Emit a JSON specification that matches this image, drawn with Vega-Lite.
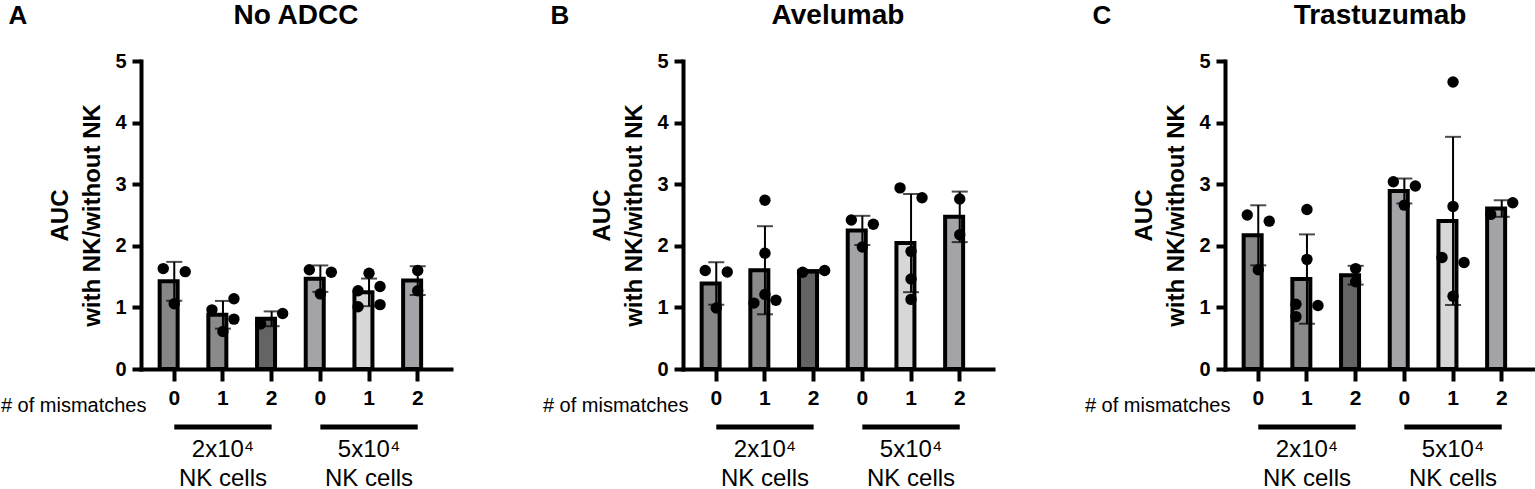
{
  "$schema": "https://vega.github.io/schema/vega-lite/v6.json",
  "description": "AUC with NK / without NK by number of mismatches and NK cell dose, three ADCC conditions",
  "background": "white",
  "padding": {"top": 2, "left": 0, "right": 0, "bottom": 0},
  "spacing": 91,
  "config": {
    "font": "Liberation Sans",
    "view": {"stroke": null},
    "axis": {
      "grid": false,
      "domainColor": "black",
      "tickColor": "black",
      "labelColor": "black",
      "titleColor": "black",
      "domainWidth": 4,
      "tickWidth": 4,
      "domainCap": "square"
    },
    "axisX": {
      "labelExpr": "split(datum.label, '|')[1]",
      "labelAngle": 0,
      "labelFontSize": 21,
      "labelFontWeight": "bold",
      "labelPadding": 6,
      "tickSize": 12,
      "titleFontSize": 20,
      "titleFontWeight": "normal",
      "titleAlign": "right",
      "titleBaseline": "alphabetic",
      "titleX": 5,
      "titleY": 42
    },
    "axisY": {
      "tickCount": 5,
      "labelFontSize": 20,
      "labelFontWeight": "bold",
      "labelPadding": 6,
      "tickSize": 9,
      "titleFontSize": 24,
      "titleFontWeight": "bold",
      "titleLineHeight": 32,
      "titlePadding": 10
    },
    "title": {"color": "black"}
  },
  "datasets": {
    "pts": [
      {"panel": "A", "cond": "2x10^4|0", "side": "L", "v": 1.63},
      {"panel": "A", "cond": "2x10^4|0", "side": "R", "v": 1.58},
      {"panel": "A", "cond": "2x10^4|0", "side": "C", "v": 1.06},
      {"panel": "A", "cond": "2x10^4|1", "side": "L", "v": 0.96},
      {"panel": "A", "cond": "2x10^4|1", "side": "R", "v": 1.14},
      {"panel": "A", "cond": "2x10^4|1", "side": "R", "v": 0.81},
      {"panel": "A", "cond": "2x10^4|1", "side": "C", "v": 0.61},
      {"panel": "A", "cond": "2x10^4|2", "side": "L", "v": 0.73},
      {"panel": "A", "cond": "2x10^4|2", "side": "R", "v": 0.90},
      {"panel": "A", "cond": "5x10^4|0", "side": "L", "v": 1.61},
      {"panel": "A", "cond": "5x10^4|0", "side": "R", "v": 1.57},
      {"panel": "A", "cond": "5x10^4|0", "side": "C", "v": 1.22},
      {"panel": "A", "cond": "5x10^4|1", "side": "C", "v": 1.555},
      {"panel": "A", "cond": "5x10^4|1", "side": "L", "v": 1.27},
      {"panel": "A", "cond": "5x10^4|1", "side": "R", "v": 1.34},
      {"panel": "A", "cond": "5x10^4|1", "side": "L", "v": 1.01},
      {"panel": "A", "cond": "5x10^4|1", "side": "R", "v": 1.045},
      {"panel": "A", "cond": "5x10^4|2", "side": "C", "v": 1.60},
      {"panel": "A", "cond": "5x10^4|2", "side": "C", "v": 1.27},

      {"panel": "B", "cond": "2x10^4|0", "side": "L", "v": 1.60},
      {"panel": "B", "cond": "2x10^4|0", "side": "R", "v": 1.575},
      {"panel": "B", "cond": "2x10^4|0", "side": "C", "v": 0.99},
      {"panel": "B", "cond": "2x10^4|1", "side": "C", "v": 2.74},
      {"panel": "B", "cond": "2x10^4|1", "side": "C", "v": 1.88},
      {"panel": "B", "cond": "2x10^4|1", "side": "C", "v": 1.21},
      {"panel": "B", "cond": "2x10^4|1", "side": "L", "v": 1.07},
      {"panel": "B", "cond": "2x10^4|1", "side": "R", "v": 1.115},
      {"panel": "B", "cond": "2x10^4|2", "side": "L", "v": 1.57},
      {"panel": "B", "cond": "2x10^4|2", "side": "R", "v": 1.60},
      {"panel": "B", "cond": "5x10^4|0", "side": "L", "v": 2.42},
      {"panel": "B", "cond": "5x10^4|0", "side": "R", "v": 2.35},
      {"panel": "B", "cond": "5x10^4|0", "side": "C", "v": 1.98},
      {"panel": "B", "cond": "5x10^4|1", "side": "L", "v": 2.94},
      {"panel": "B", "cond": "5x10^4|1", "side": "R", "v": 2.78},
      {"panel": "B", "cond": "5x10^4|1", "side": "C", "v": 1.91},
      {"panel": "B", "cond": "5x10^4|1", "side": "C", "v": 1.46},
      {"panel": "B", "cond": "5x10^4|1", "side": "C", "v": 1.13},
      {"panel": "B", "cond": "5x10^4|2", "side": "C", "v": 2.76},
      {"panel": "B", "cond": "5x10^4|2", "side": "C", "v": 2.18},

      {"panel": "C", "cond": "2x10^4|0", "side": "L", "v": 2.50},
      {"panel": "C", "cond": "2x10^4|0", "side": "R", "v": 2.40},
      {"panel": "C", "cond": "2x10^4|0", "side": "C", "v": 1.61},
      {"panel": "C", "cond": "2x10^4|1", "side": "C", "v": 2.59},
      {"panel": "C", "cond": "2x10^4|1", "side": "C", "v": 1.78},
      {"panel": "C", "cond": "2x10^4|1", "side": "L", "v": 1.05},
      {"panel": "C", "cond": "2x10^4|1", "side": "R", "v": 1.03},
      {"panel": "C", "cond": "2x10^4|1", "side": "L", "v": 0.85},
      {"panel": "C", "cond": "2x10^4|2", "side": "C", "v": 1.63},
      {"panel": "C", "cond": "2x10^4|2", "side": "C", "v": 1.415},
      {"panel": "C", "cond": "5x10^4|0", "side": "L", "v": 3.04},
      {"panel": "C", "cond": "5x10^4|0", "side": "R", "v": 2.97},
      {"panel": "C", "cond": "5x10^4|0", "side": "C", "v": 2.66},
      {"panel": "C", "cond": "5x10^4|1", "side": "C", "v": 4.66},
      {"panel": "C", "cond": "5x10^4|1", "side": "C", "v": 2.64},
      {"panel": "C", "cond": "5x10^4|1", "side": "L", "v": 1.81},
      {"panel": "C", "cond": "5x10^4|1", "side": "R", "v": 1.73},
      {"panel": "C", "cond": "5x10^4|1", "side": "C", "v": 1.18},
      {"panel": "C", "cond": "5x10^4|2", "side": "L", "v": 2.51},
      {"panel": "C", "cond": "5x10^4|2", "side": "R", "v": 2.70}
    ],
    "groups": [
      {"first": "2x10^4|0", "mid": "2x10^4|1", "last": "2x10^4|2", "label": "2x10⁴\nNK cells"},
      {"first": "5x10^4|0", "mid": "5x10^4|1", "last": "5x10^4|2", "label": "5x10⁴\nNK cells"}
    ]
  },
  "hconcat": [
    {
      "title": {"text": "A", "anchor": "start", "fontSize": 26, "fontWeight": "bold", "offset": -27, "dx": 8},
      "hconcat": [
        {
          "title": {"text": "No ADCC", "fontSize": 28, "fontWeight": "bold", "offset": 21},
          "width": 310,
          "height": 308,
          "layer": [
            {
              "data": {"name": "pts"},
              "transform": [{"filter": "datum.panel === 'A'"}],
              "mark": {"type": "bar", "stroke": "black", "strokeWidth": 4, "width": {"band": 1}},
              "encoding": {
                "x": {"field": "cond", "type": "nominal", "title": "# of mismatches", "scale": {"domain": ["2x10^4|0", "2x10^4|1", "2x10^4|2", "5x10^4|0", "5x10^4|1", "5x10^4|2"], "paddingInner": 0.4, "paddingOuter": 0.383}},
                "y": {"aggregate": "mean", "field": "v", "type": "quantitative", "title": ["AUC", "with NK/without NK"], "scale": {"domain": [0, 5], "nice": false}},
                "color": {"field": "cond", "type": "nominal", "scale": {"domain": ["2x10^4|0", "2x10^4|1", "2x10^4|2", "5x10^4|0", "5x10^4|1", "5x10^4|2"], "range": ["#868686", "#8a8a8a", "#646464", "#a4a4a8", "#d7d7d7", "#a4a4a8"]}, "legend": null}
              }
            },
            {
              "data": {"name": "pts"},
              "transform": [{"filter": "datum.panel === 'A'"}],
              "mark": {"type": "errorbar", "extent": "stdev", "ticks": true, "size": 16, "thickness": 2, "color": "black"},
              "encoding": {
                "x": {"field": "cond", "type": "nominal", "title": "# of mismatches"},
                "y": {"field": "v", "type": "quantitative", "title": ["AUC", "with NK/without NK"]}
              }
            },
            {
              "data": {"name": "pts"},
              "transform": [{"filter": "datum.panel === 'A'"}],
              "mark": {"type": "circle", "size": 130, "color": "black", "opacity": 1},
              "encoding": {
                "x": {"field": "cond", "type": "nominal", "title": "# of mismatches"},
                "xOffset": {"field": "side", "type": "nominal", "scale": {"type": "point", "domain": ["L", "C", "R"], "range": [3.6, 25.6], "padding": 0}},
                "y": {"field": "v", "type": "quantitative", "title": ["AUC", "with NK/without NK"]}
              }
            },
            {
              "data": {"name": "groups"},
              "mark": {"type": "rule", "strokeWidth": 5, "color": "black"},
              "encoding": {
                "x": {"field": "first", "type": "nominal", "title": "# of mismatches"},
                "x2": {"field": "last"},
                "y": {"datum": -0.94, "type": "quantitative"}
              }
            },
            {
              "data": {"name": "groups"},
              "mark": {"type": "text", "fontSize": 24, "lineBreak": "\n", "lineHeight": 29, "align": "center", "baseline": "top", "color": "black"},
              "encoding": {
                "x": {"field": "mid", "type": "nominal", "title": "# of mismatches"},
                "y": {"datum": -1.12, "type": "quantitative"},
                "text": {"field": "label"}
              }
            }
          ]
        }
      ]
    },
    {
      "title": {"text": "B", "anchor": "start", "fontSize": 26, "fontWeight": "bold", "offset": -27, "dx": 8},
      "hconcat": [
        {
          "title": {"text": "Avelumab", "fontSize": 28, "fontWeight": "bold", "offset": 21},
          "width": 310,
          "height": 308,
          "layer": [
            {
              "data": {"name": "pts"},
              "transform": [{"filter": "datum.panel === 'B'"}],
              "mark": {"type": "bar", "stroke": "black", "strokeWidth": 4, "width": {"band": 1}},
              "encoding": {
                "x": {"field": "cond", "type": "nominal", "title": "# of mismatches", "scale": {"domain": ["2x10^4|0", "2x10^4|1", "2x10^4|2", "5x10^4|0", "5x10^4|1", "5x10^4|2"], "paddingInner": 0.4, "paddingOuter": 0.383}},
                "y": {"aggregate": "mean", "field": "v", "type": "quantitative", "title": ["AUC", "with NK/without NK"], "scale": {"domain": [0, 5], "nice": false}},
                "color": {"field": "cond", "type": "nominal", "scale": {"domain": ["2x10^4|0", "2x10^4|1", "2x10^4|2", "5x10^4|0", "5x10^4|1", "5x10^4|2"], "range": ["#868686", "#8a8a8a", "#646464", "#a4a4a8", "#d7d7d7", "#a4a4a8"]}, "legend": null}
              }
            },
            {
              "data": {"name": "pts"},
              "transform": [{"filter": "datum.panel === 'B'"}],
              "mark": {"type": "errorbar", "extent": "stdev", "ticks": true, "size": 16, "thickness": 2, "color": "black"},
              "encoding": {
                "x": {"field": "cond", "type": "nominal", "title": "# of mismatches"},
                "y": {"field": "v", "type": "quantitative", "title": ["AUC", "with NK/without NK"]}
              }
            },
            {
              "data": {"name": "pts"},
              "transform": [{"filter": "datum.panel === 'B'"}],
              "mark": {"type": "circle", "size": 130, "color": "black", "opacity": 1},
              "encoding": {
                "x": {"field": "cond", "type": "nominal", "title": "# of mismatches"},
                "xOffset": {"field": "side", "type": "nominal", "scale": {"type": "point", "domain": ["L", "C", "R"], "range": [3.6, 25.6], "padding": 0}},
                "y": {"field": "v", "type": "quantitative", "title": ["AUC", "with NK/without NK"]}
              }
            },
            {
              "data": {"name": "groups"},
              "mark": {"type": "rule", "strokeWidth": 5, "color": "black"},
              "encoding": {
                "x": {"field": "first", "type": "nominal", "title": "# of mismatches"},
                "x2": {"field": "last"},
                "y": {"datum": -0.94, "type": "quantitative"}
              }
            },
            {
              "data": {"name": "groups"},
              "mark": {"type": "text", "fontSize": 24, "lineBreak": "\n", "lineHeight": 29, "align": "center", "baseline": "top", "color": "black"},
              "encoding": {
                "x": {"field": "mid", "type": "nominal", "title": "# of mismatches"},
                "y": {"datum": -1.12, "type": "quantitative"},
                "text": {"field": "label"}
              }
            }
          ]
        }
      ]
    },
    {
      "title": {"text": "C", "anchor": "start", "fontSize": 26, "fontWeight": "bold", "offset": -27, "dx": 8},
      "hconcat": [
        {
          "title": {"text": "Trastuzumab", "fontSize": 28, "fontWeight": "bold", "offset": 21},
          "width": 310,
          "height": 308,
          "layer": [
            {
              "data": {"name": "pts"},
              "transform": [{"filter": "datum.panel === 'C'"}],
              "mark": {"type": "bar", "stroke": "black", "strokeWidth": 4, "width": {"band": 1}},
              "encoding": {
                "x": {"field": "cond", "type": "nominal", "title": "# of mismatches", "scale": {"domain": ["2x10^4|0", "2x10^4|1", "2x10^4|2", "5x10^4|0", "5x10^4|1", "5x10^4|2"], "paddingInner": 0.4, "paddingOuter": 0.383}},
                "y": {"aggregate": "mean", "field": "v", "type": "quantitative", "title": ["AUC", "with NK/without NK"], "scale": {"domain": [0, 5], "nice": false}},
                "color": {"field": "cond", "type": "nominal", "scale": {"domain": ["2x10^4|0", "2x10^4|1", "2x10^4|2", "5x10^4|0", "5x10^4|1", "5x10^4|2"], "range": ["#868686", "#8a8a8a", "#646464", "#a4a4a8", "#d7d7d7", "#a4a4a8"]}, "legend": null}
              }
            },
            {
              "data": {"name": "pts"},
              "transform": [{"filter": "datum.panel === 'C'"}],
              "mark": {"type": "errorbar", "extent": "stdev", "ticks": true, "size": 16, "thickness": 2, "color": "black"},
              "encoding": {
                "x": {"field": "cond", "type": "nominal", "title": "# of mismatches"},
                "y": {"field": "v", "type": "quantitative", "title": ["AUC", "with NK/without NK"]}
              }
            },
            {
              "data": {"name": "pts"},
              "transform": [{"filter": "datum.panel === 'C'"}],
              "mark": {"type": "circle", "size": 130, "color": "black", "opacity": 1},
              "encoding": {
                "x": {"field": "cond", "type": "nominal", "title": "# of mismatches"},
                "xOffset": {"field": "side", "type": "nominal", "scale": {"type": "point", "domain": ["L", "C", "R"], "range": [3.6, 25.6], "padding": 0}},
                "y": {"field": "v", "type": "quantitative", "title": ["AUC", "with NK/without NK"]}
              }
            },
            {
              "data": {"name": "groups"},
              "mark": {"type": "rule", "strokeWidth": 5, "color": "black"},
              "encoding": {
                "x": {"field": "first", "type": "nominal", "title": "# of mismatches"},
                "x2": {"field": "last"},
                "y": {"datum": -0.94, "type": "quantitative"}
              }
            },
            {
              "data": {"name": "groups"},
              "mark": {"type": "text", "fontSize": 24, "lineBreak": "\n", "lineHeight": 29, "align": "center", "baseline": "top", "color": "black"},
              "encoding": {
                "x": {"field": "mid", "type": "nominal", "title": "# of mismatches"},
                "y": {"datum": -1.12, "type": "quantitative"},
                "text": {"field": "label"}
              }
            }
          ]
        }
      ]
    }
  ]
}
